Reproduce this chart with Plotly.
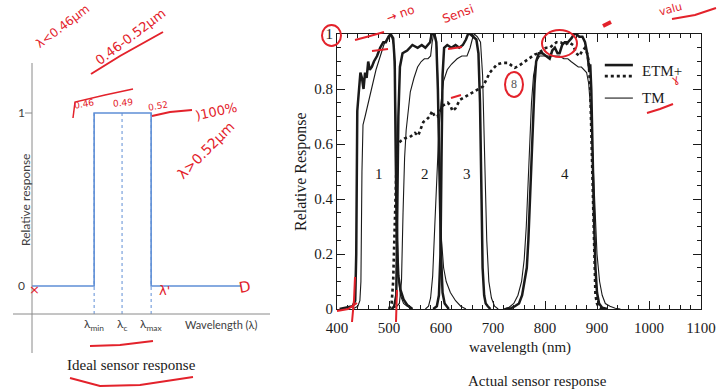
import plotly.graph_objects as go

W, H = 718, 391

# ---------------- data: ideal sensor (left panel) ----------------
lam_min, lam_c, lam_max = 2.18, 3.16, 4.18
ideal_x = [0, lam_min, lam_min, lam_max, lam_max, 7.33]
ideal_y = [0, 0, 1, 1, 0, 0]
ideal_marks = [lam_min, lam_c, lam_max]
ideal_labels = ["λ<sub>min</sub>", "λ<sub>c</sub>", "λ<sub>max</sub>"]
axis_floor = -0.162

# ---------------- data: actual sensor response (right panel) ----------------
etm_b1 = [(405, 0), (420, 0.005), (430, 0.01), (435, 0.03), (437, 0.2), (439, 0.72), (442, 0.8),
          (445, 0.86), (448, 0.84), (451, 0.8), (454, 0.86), (457, 0.84), (460, 0.9), (463, 0.87),
          (467, 0.88), (471, 0.9), (477, 0.92), (483, 0.95), (489, 0.97), (494, 0.97), (499, 0.99),
          (503, 1.0), (508, 0.985), (511, 0.9), (513, 0.55), (515, 0.25), (518, 0.12), (522, 0.07),
          (528, 0.035), (535, 0.015), (545, 0)]
tm_b1 = [(430, 0), (440, 0.01), (444, 0.03), (446, 0.1), (448, 0.5), (450, 0.67), (454, 0.7),
         (460, 0.75), (465, 0.79), (470, 0.83), (475, 0.87), (480, 0.9), (485, 0.93), (490, 0.96),
         (495, 0.98), (500, 0.99), (505, 0.99), (509, 0.96), (512, 0.8), (515, 0.4), (518, 0.12),
         (522, 0.05), (528, 0.02), (535, 0.01), (545, 0)]
etm_b2 = [(505, 0), (510, 0.01), (514, 0.05), (516, 0.3), (518, 0.7), (521, 0.88), (526, 0.93),
          (535, 0.94), (545, 0.96), (555, 0.95), (563, 0.96), (570, 0.95), (575, 0.96), (579, 0.97),
          (582, 1.0), (587, 1.0), (591, 0.97), (594, 0.8), (597, 0.5), (600, 0.2), (603, 0.06),
          (607, 0.02), (615, 0)]
tm_b2 = [(505, 0), (515, 0.01), (520, 0.02), (524, 0.1), (527, 0.35), (530, 0.55), (533, 0.65),
         (537, 0.72), (541, 0.79), (548, 0.84), (555, 0.88), (562, 0.9), (568, 0.91), (575, 0.91),
         (580, 0.92), (583, 0.97), (586, 1.0), (589, 1.0), (592, 0.95), (595, 0.75), (598, 0.45),
         (601, 0.25), (605, 0.15), (610, 0.1), (618, 0.06), (628, 0.03), (638, 0.01), (648, 0)]
etm_b3 = [(585, 0), (592, 0.01), (596, 0.05), (599, 0.2), (601, 0.55), (603, 0.85), (606, 0.95),
          (612, 0.96), (620, 0.95), (628, 0.96), (635, 0.95), (642, 0.96), (648, 0.98), (652, 1.0),
          (656, 1.0), (662, 0.99), (668, 0.98), (672, 0.93), (675, 0.75), (678, 0.4), (680, 0.15),
          (683, 0.05), (686, 0.02), (690, 0.01), (695, 0)]
tm_b3 = [(570, 0), (576, 0.01), (580, 0.04), (584, 0.12), (588, 0.3), (592, 0.5), (596, 0.65),
         (600, 0.75), (605, 0.83), (612, 0.87), (620, 0.89), (631, 0.91), (640, 0.92), (650, 0.92),
         (656, 0.95), (660, 0.98), (664, 1.0), (670, 0.99), (676, 0.97), (680, 0.85), (684, 0.55),
         (688, 0.25), (692, 0.1), (697, 0.04), (703, 0.01), (710, 0)]
etm_b4 = [(725, 0), (735, 0.003), (742, 0.01), (750, 0.02), (756, 0.05), (761, 0.1), (765, 0.15),
          (768, 0.25), (771, 0.4), (774, 0.55), (777, 0.7), (780, 0.82), (783, 0.9), (788, 0.93),
          (795, 0.93), (802, 0.92), (809, 0.91), (814, 0.94), (819, 0.95), (824, 0.93), (828, 0.93),
          (833, 0.96), (838, 0.97), (844, 0.97), (851, 0.985), (856, 1.0), (860, 1.0), (866, 0.99),
          (872, 0.99), (877, 0.97), (882, 0.92), (885, 0.87), (887, 0.89), (889, 0.8), (891, 0.6),
          (894, 0.35), (897, 0.15), (900, 0.06), (904, 0.02), (910, 0.005), (920, 0)]
tm_b4 = [(720, 0), (730, 0.005), (740, 0.02), (748, 0.05), (755, 0.1), (760, 0.18), (764, 0.3),
         (767, 0.45), (770, 0.6), (774, 0.75), (778, 0.85), (783, 0.9), (790, 0.92), (800, 0.92),
         (810, 0.92), (820, 0.92), (828, 0.92), (836, 0.91), (844, 0.91), (850, 0.9), (857, 0.89),
         (864, 0.88), (870, 0.88), (876, 0.87), (880, 0.86), (884, 0.82), (888, 0.72), (892, 0.55),
         (896, 0.35), (900, 0.2), (905, 0.1), (910, 0.05), (916, 0.02), (925, 0.01), (935, 0.003),
         (945, 0)]
etm_pan = [(500, 0), (505, 0.02), (508, 0.1), (511, 0.3), (514, 0.5), (517, 0.6), (522, 0.61),
           (530, 0.62), (540, 0.625), (550, 0.64), (556, 0.63), (562, 0.66), (566, 0.68), (573, 0.69),
           (578, 0.7), (583, 0.72), (588, 0.7), (593, 0.7), (598, 0.72), (604, 0.74), (613, 0.75),
           (618, 0.74), (622, 0.72), (628, 0.73), (636, 0.76), (645, 0.77), (652, 0.78), (662, 0.79),
           (672, 0.80), (681, 0.81), (694, 0.86), (708, 0.89), (718, 0.895), (729, 0.895), (736, 0.885),
           (742, 0.877), (750, 0.885), (762, 0.90), (772, 0.915), (780, 0.925), (787, 0.93), (795, 0.94),
           (802, 0.95), (809, 0.95), (815, 0.96), (822, 0.97), (830, 0.97), (838, 0.96), (846, 0.97),
           (854, 0.96), (860, 0.93), (866, 0.92), (872, 0.94), (877, 0.95), (881, 0.93), (884, 0.9),
           (887, 0.8), (889, 0.65), (891, 0.45), (893, 0.25), (895, 0.12), (897, 0.05), (900, 0.02),
           (904, 0.005), (910, 0)]
band_names = ["1", "2", "3", "4"]
band_pos_x = [481, 569, 650, 838]
band_pos_y = [0.49, 0.49, 0.49, 0.49]
x_ticks = [400, 500, 600, 700, 800, 900, 1000, 1100]
y_ticks = [0, 0.2, 0.4, 0.6, 0.8, 1]
y_tick_text = ["0", "0.2", "0.4", "0.6", "0.8", "1"]

SERIF = "Liberation Serif"
SANS = "Lato"
BLUE = "#5f8fd6"
GRAY = "#8a8a8a"
INK = "#1a1a1a"
RED = "#e3222b"


def P(px, py):
    return px / W, 1 - py / H


fig = go.Figure()

# ---- left panel traces ----
for xm in ideal_marks:
    fig.add_trace(go.Scatter(x=[xm, xm], y=[1, axis_floor], mode="lines",
                             line=dict(color=BLUE, width=1, dash="dot"),
                             xaxis="x", yaxis="y", hoverinfo="skip", showlegend=False))
fig.add_trace(go.Scatter(x=ideal_x, y=ideal_y, mode="lines", line=dict(color=BLUE, width=1.6),
                         xaxis="x", yaxis="y", showlegend=False))

# ---- right panel traces ----
def add_curve(pts, width, dash="solid"):
    fig.add_trace(go.Scatter(x=[p[0] for p in pts], y=[p[1] for p in pts], mode="lines",
                             line=dict(color=INK, width=width, dash=dash),
                             xaxis="x2", yaxis="y2", showlegend=False))

for c in (tm_b1, tm_b2, tm_b3, tm_b4):
    add_curve(c, 1.1)
for c in (etm_b1, etm_b2, etm_b3, etm_b4):
    add_curve(c, 2.5)
add_curve(etm_pan, 2.6, "dot")

ann = []
shapes = []

# band numbers
for name, bx, by in zip(band_names, band_pos_x, band_pos_y):
    ann.append(dict(x=bx, y=by, xref="x2", yref="y2", text=name, showarrow=False,
                    xanchor="center", yanchor="middle",
                    font=dict(family=SERIF, size=15, color=INK)))

# legend (drawn)
for (yy, w, d) in [(0.887, 2.6, "solid"), (0.847, 2.8, "dot"), (0.767, 1.1, "solid")]:
    shapes.append(dict(type="line", xref="x2", yref="y2", x0=915, x1=969, y0=yy, y1=yy,
                       line=dict(color=INK, width=w, dash=d)))
ann.append(dict(x=983, y=0.866, xref="x2", yref="y2", text="ETM+", showarrow=False,
                xanchor="left", yanchor="middle", font=dict(family=SERIF, size=15, color=INK)))
ann.append(dict(x=983, y=0.767, xref="x2", yref="y2", text="TM", showarrow=False,
                xanchor="left", yanchor="middle", font=dict(family=SERIF, size=15, color=INK)))

# titles
def txt(px, py, text, family, size, color=INK, angle=0, **kw):
    x, y = P(px, py)
    d = dict(x=x, y=y, xref="paper", yref="paper", text=text, showarrow=False, textangle=angle,
             xanchor="center", yanchor="middle",
             font=dict(family=family, size=size, color=color))
    d.update(kw)
    ann.append(d)

txt(301, 172, "Relative Response", SERIF, 16, angle=-90)
txt(520, 347, "wavelength (nm)", SERIF, 15)
txt(537, 381, "Actual sensor response", SERIF, 15)
txt(131, 365, "Ideal sensor response", SERIF, 15)
txt(25, 200, "Relative response", SANS, 12, color="#404040", angle=-90)
txt(221, 324, "Wavelength (λ)", SANS, 11, color="#404040")
txt(21, 113, "1", SANS, 12, color="#404040")
txt(21, 285, "0", SANS, 12, color="#404040")
for xm, lab in zip(ideal_marks, ideal_labels):
    ann.append(dict(x=xm, y=axis_floor, xref="x", yref="y", yshift=-10, text=lab, showarrow=False,
                    xanchor="center", yanchor="middle",
                    font=dict(family=SANS, size=12, color="#404040")))

# left axis lines
def seg(x0, y0, x1, y1, color=GRAY, width=1, dash="solid"):
    a, b = P(x0, y0)
    c, d = P(x1, y1)
    shapes.append(dict(type="line", xref="paper", yref="paper", x0=a, y0=b, x1=c, y1=d,
                       line=dict(color=color, width=width, dash=dash)))

seg(32, 63, 32, 353)
seg(13, 314, 270, 314)
seg(25, 113, 32, 113)

# ---- red handwritten annotations ----
def path(d_pts, width=2):
    s = "M " + " L ".join(f"{px / W:.5f},{1 - py / H:.5f}" for px, py in d_pts)
    shapes.append(dict(type="path", xref="paper", yref="paper", path=s,
                       line=dict(color=RED, width=width)))

def ell(x0, y0, x1, y1, width=2):
    a, b = P(x0, y0)
    c, d = P(x1, y1)
    shapes.append(dict(type="circle", xref="paper", yref="paper", x0=a, y0=d, x1=c, y1=b,
                       line=dict(color=RED, width=width)))

HAND = "DejaVu Sans"
txt(63, 26, "λ<0.46μm", HAND, 12, RED, -37)
txt(131, 37, "0.46-0.52μm", HAND, 13, RED, -37)
path([(91, 74), (120, 56), (163, 32)])
txt(84, 104, "0.46", HAND, 9, RED, -10)
txt(123, 103, "0.49", HAND, 9, RED, -5)
txt(158, 106, "0.52", HAND, 9, RED, -10)
path([(73, 118), (75, 102), (105, 95), (133, 89)], 1.5)
path([(152, 116), (170, 112), (192, 110)])
txt(216, 111, ")100%", HAND, 13, RED, -12)
txt(206, 150, "λ>0.52μm", HAND, 14, RED, -45)
txt(34, 289, "×", HAND, 13, RED)
txt(164, 290, "λ'", HAND, 13, RED)
txt(245, 287, "D", HAND, 15, RED, -10)
path([(90, 346), (120, 345), (153, 341)])
path([(70, 378), (100, 386), (140, 385), (193, 377)])

ell(322, 25, 341, 46)
path([(355, 40), (370, 36), (384, 32)])
txt(400, 14, "→ no", HAND, 12, RED, -20)
txt(458, 14, "Sensi", HAND, 12, RED, -20)
txt(670, 10, "valu", HAND, 11, RED, -15)
path([(672, 19), (695, 15), (716, 8)])
path([(603, 26), (611, 22)], 4)
ell(542, 30, 577, 57)
ell(505, 72, 523, 97)
txt(514, 84, "8", SERIF, 12, "#555555")
txt(675, 79, "ɣ", HAND, 11, RED, -20)
path([(647, 113), (660, 109), (673, 104)])
path([(372, 51), (388, 49)])
path([(448, 49), (462, 47)])
path([(451, 98), (461, 95)])
path([(337, 311), (348, 309), (357, 303)])
path([(355, 277), (354, 300), (352, 322)])
path([(397, 290), (396, 322)])

fig.update_layout(
    width=W, height=H, margin=dict(l=0, r=0, t=0, b=0, pad=0, autoexpand=False),
    paper_bgcolor="white", plot_bgcolor="rgba(0,0,0,0)", showlegend=False,
    xaxis=dict(domain=[0, 290 / W], range=[-32 / 28.5, (290 - 32) / 28.5], visible=False,
               automargin=False),
    yaxis=dict(domain=[0, 1], range=[(286 - 391) / 173, 286 / 173], visible=False,
               automargin=False),
    xaxis2=dict(domain=[337 / W, 701 / W], range=[400, 1100], anchor="y2", automargin=False,
                showline=True, linecolor=INK, linewidth=1, mirror="allticks",
                ticks="inside", ticklen=8, tickcolor=INK, tickwidth=1, ticklabelstandoff=5,
                tickvals=x_ticks, ticktext=[str(v) for v in x_ticks],
                tickfont=dict(family=SERIF, size=15, color=INK),
                minor=dict(dtick=20, tick0=400, ticks="inside", ticklen=4, tickcolor=INK),
                showgrid=False, zeroline=False),
    yaxis2=dict(domain=[(H - 309) / H, (H - 34) / H], range=[0, 1], anchor="x2", automargin=False,
                showline=True, linecolor=INK, linewidth=1, mirror="allticks",
                ticks="inside", ticklen=8, tickcolor=INK, tickwidth=1,
                tickvals=y_ticks, ticktext=y_tick_text,
                tickfont=dict(family=SERIF, size=15, color=INK),
                minor=dict(dtick=0.05, tick0=0, ticks="inside", ticklen=4, tickcolor=INK),
                showgrid=False, zeroline=False),
    annotations=ann, shapes=shapes,
)

fig.write_html("out.html")
